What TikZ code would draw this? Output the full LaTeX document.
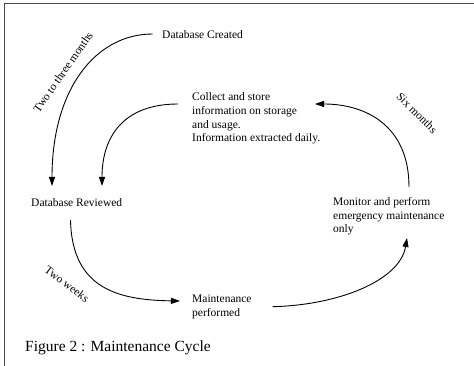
\documentclass[tikz,border=0pt]{standalone}
\usepackage{fontspec}
\setmainfont{Liberation Serif}
\usetikzlibrary{arrows.meta}
\begin{document}
\begin{tikzpicture}[x=1pt,y=-1pt,
  lbl/.style={inner sep=0, anchor=base west, align=left, font=\fontsize{11.5}{13.8}\selectfont},
  rlbl/.style={inner sep=0, font=\fontsize{11.5}{13.8}\selectfont},
  conn/.style={line width=0.9pt, -{Triangle[length=9pt,width=6pt]}}]
\useasboundingbox (0,0) rectangle (474,366);
\fill[white] (0,0) rectangle (474,366);
\draw[line width=1pt, black!70] (4.5,366) -- (4.5,3.5) -- (474,3.5);
% text nodes (base = baseline of last line)
\node[lbl] (dc) at (162,39) {Database Created};
\node[lbl] (col) at (192,142) {Collect and store\\information on storage\\and usage.\\Information extracted daily.};
\node[lbl] (dr) at (31,206.5) {Database Reviewed};
\node[lbl] (mp) at (192,316) {Maintenance\\performed};
\node[lbl] (mon) at (333,233) {Monitor and perform\\emergency maintenance\\only};
\node[lbl, font=\fontsize{15.5}{18}\selectfont] (cap) at (25,351.7) {Figure 2 : Maintenance Cycle};
% connector ends
\coordinate (a1s) at (152.7,34);
\coordinate (a1e) at (52,186);
\coordinate (a2s) at (178,104);
\coordinate (a2e) at (102,186);
\coordinate (a3s) at (70.5,220);
\coordinate (a3e) at (180,301);
\coordinate (a4s) at (272.7,306.7);
\coordinate (a4e) at (407,238);
\coordinate (a5s) at (409,187);
\coordinate (a5e) at (315,104);
% connectors
\draw[conn] (a1s) .. controls (95,34) and (52,90) .. (a1e);
\draw[conn] (a2s) .. controls (125,104) and (102,135) .. (a2e);
\draw[conn] (a3s) .. controls (72,290) and (120,300) .. (a3e);
\draw[conn] (a4s) .. controls (340,305) and (400,280) .. (a4e);
\draw[conn] (a5s) .. controls (409,125) and (365,104) .. (a5e);
% labels
\node[rlbl, rotate=55] (l1) at (63,72) {Two to three months};
\node[rlbl, rotate=-37] (l2) at (67,284) {Two weeks};
\node[rlbl, rotate=-45] (l3) at (417,113) {Six months};
\end{tikzpicture}
\end{document}
